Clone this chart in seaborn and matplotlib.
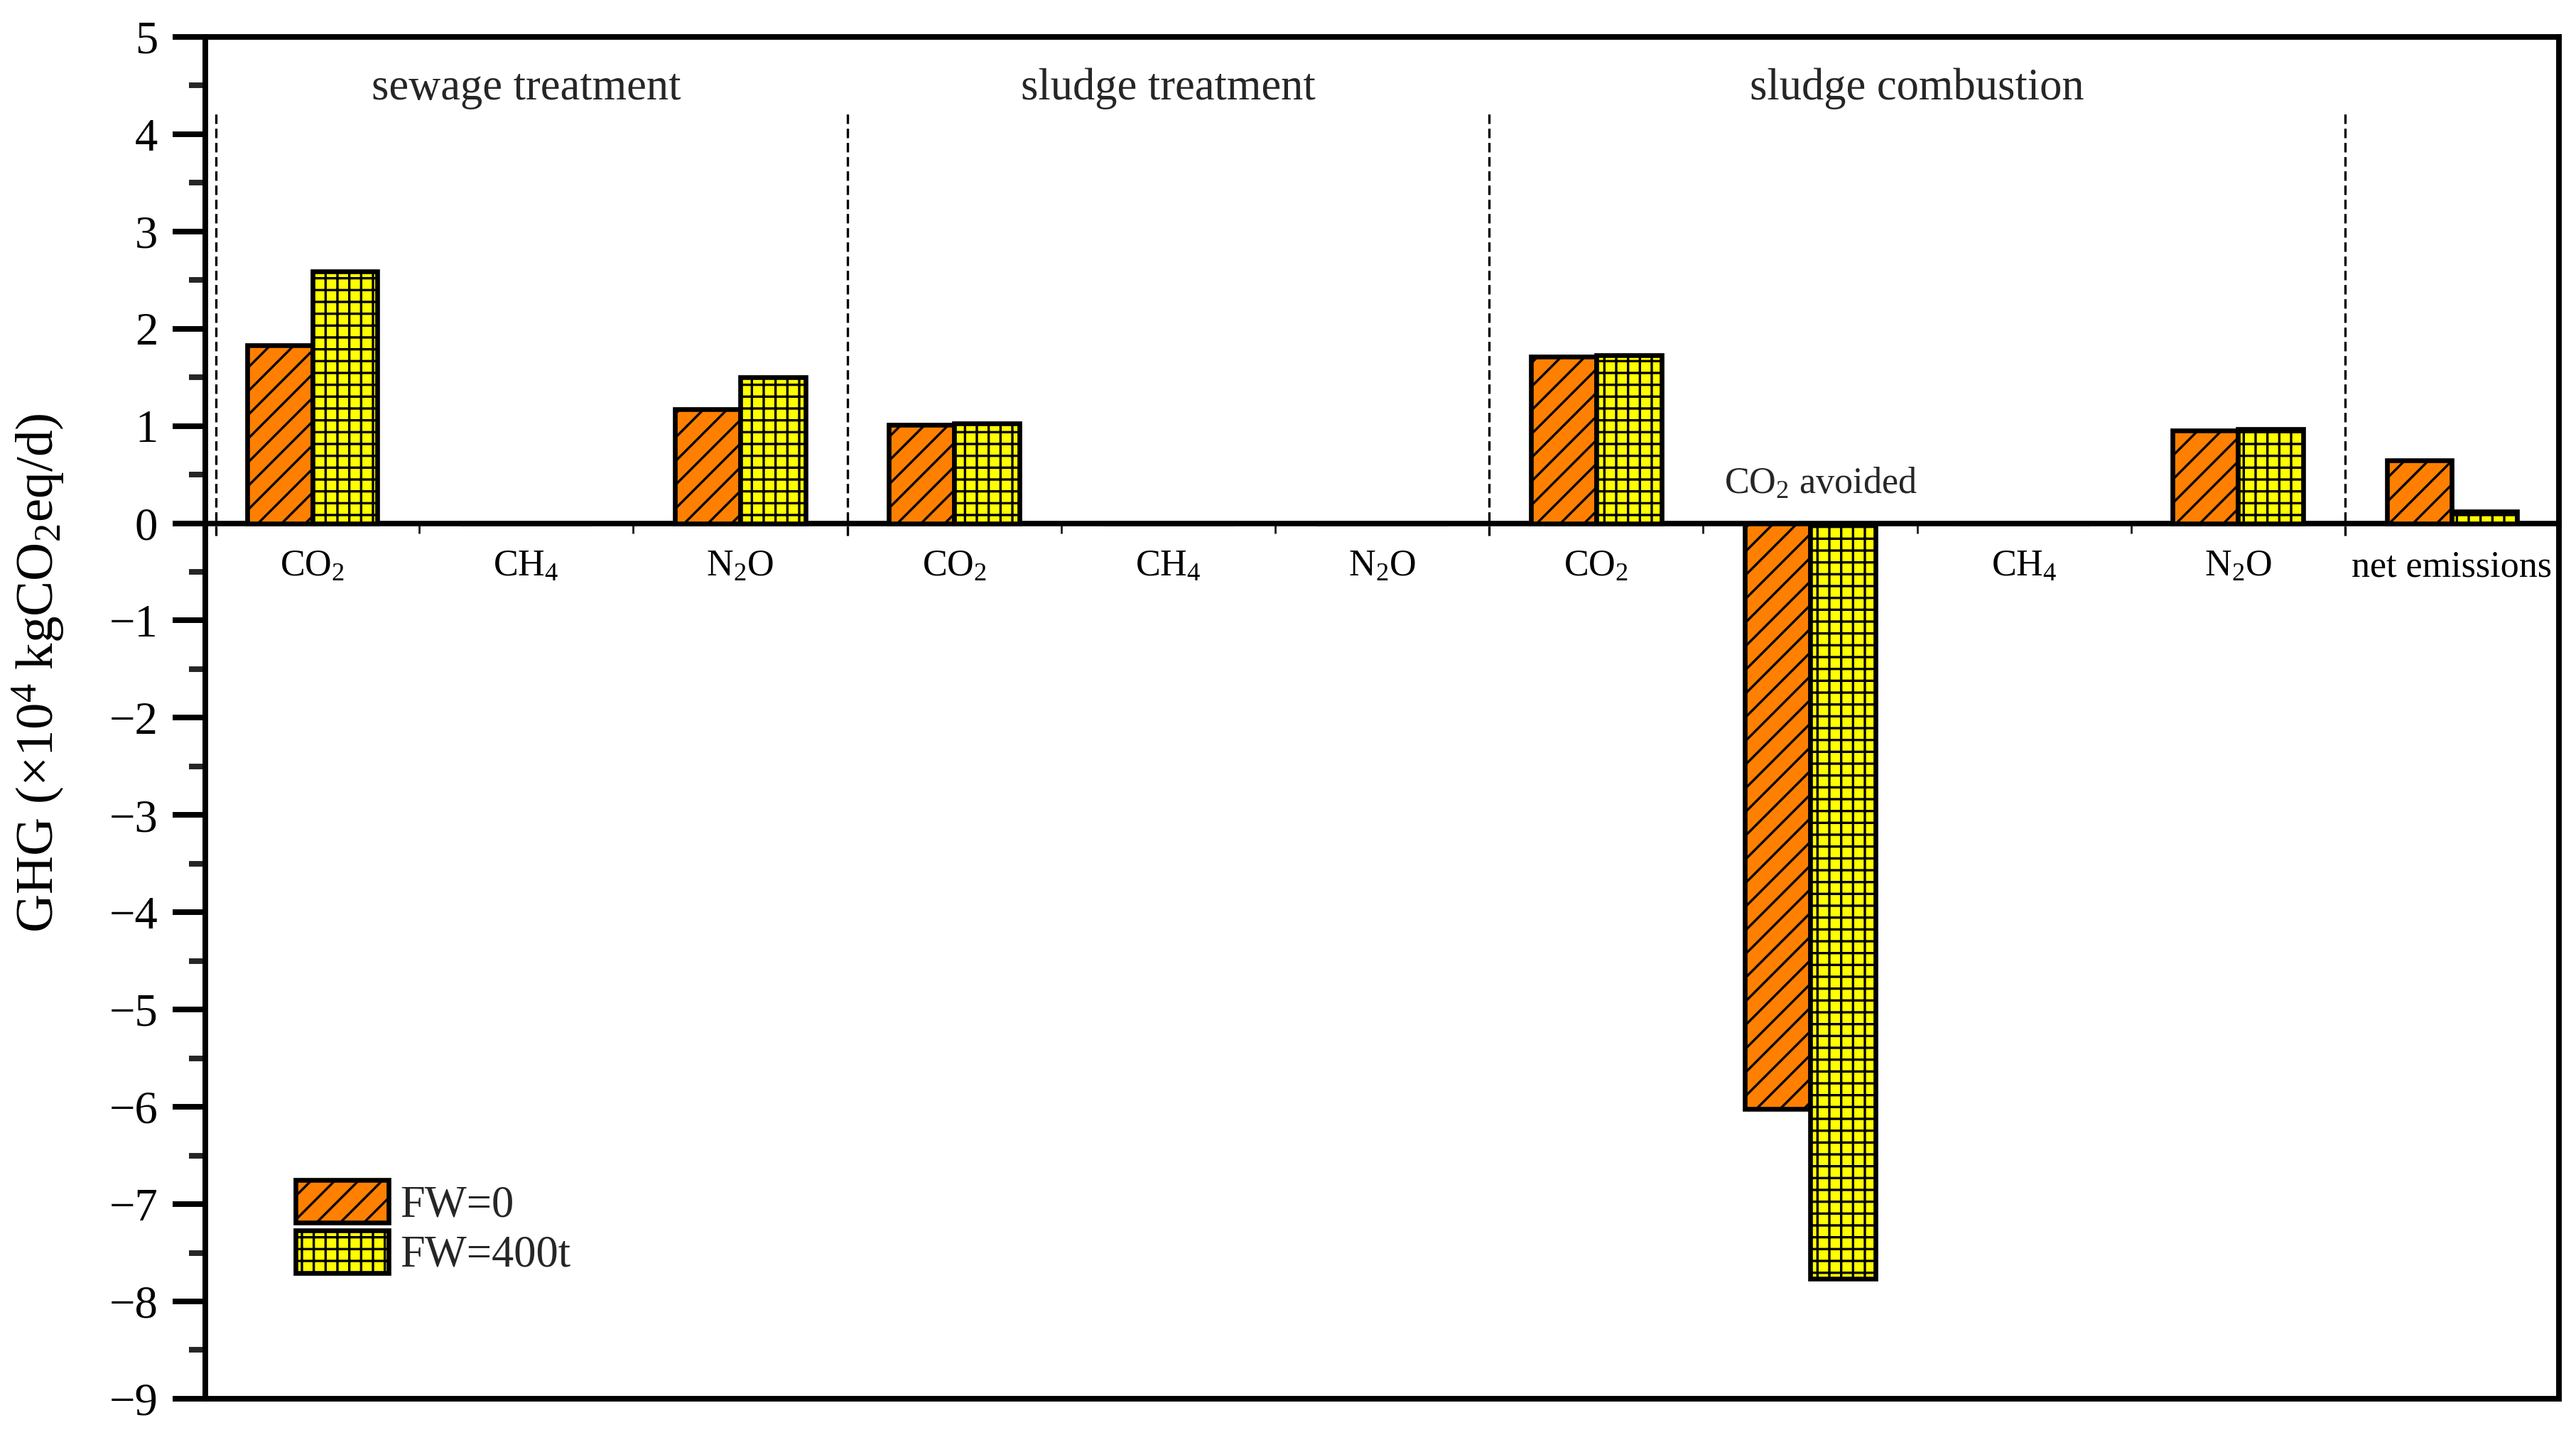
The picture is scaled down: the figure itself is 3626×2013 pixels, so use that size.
import matplotlib
matplotlib.use("Agg")
import matplotlib.pyplot as plt
import seaborn as sns
import pandas as pd

# GHG emissions per stage (x10^4 kgCO2eq/d)
gases = ['CO$_2$', 'CH$_4$', 'N$_2$O',
         'CO$_2$', 'CH$_4$', 'N$_2$O',
         'CO$_2$', 'CO$_2$ avoided', 'CH$_4$', 'N$_2$O',
         'net emissions']
fw0 = [1.83, 0, 1.17, 1.01, 0, 0, 1.71, -6.02, 0, 0.95, 0.65]
fw400 = [2.59, 0, 1.50, 1.03, 0, 0, 1.73, -7.77, 0, 0.97, 0.12]
scenarios = ['FW=0', 'FW=400t']
stages = ['sewage treatment', 'sludge treatment', 'sludge combustion']
stage_centers = [1, 4, 7.5]
dividers = [-0.45, 2.5, 5.5, 9.5]

colors = ['#FF8000', '#FFFF00']
hatches = ['///', '+++']

df = pd.DataFrame({
    'pos': list(range(len(gases))) * 2,
    'value': fw0 + fw400,
    'scenario': [scenarios[0]] * len(gases) + [scenarios[1]] * len(gases),
})

sns.set_theme(style='ticks')
plt.rcParams['font.family'] = ['Liberation Serif', 'DejaVu Serif']
plt.rcParams['mathtext.fontset'] = 'custom'
plt.rcParams['mathtext.rm'] = 'Liberation Serif'
plt.rcParams['mathtext.it'] = 'Liberation Serif:italic'
plt.rcParams['mathtext.default'] = 'regular'
plt.rcParams['hatch.linewidth'] = 0.8
plt.rcParams['axes.unicode_minus'] = True

fig, ax = plt.subplots(figsize=(3626 / 300, 2013 / 300), dpi=300)
fig.subplots_adjust(left=0.0797, right=0.9934, bottom=0.0219, top=0.9742)

sns.barplot(data=df, x='pos', y='value', hue='scenario', hue_order=scenarios,
            order=list(range(len(gases))), palette=colors, width=0.61,
            edgecolor='black', linewidth=1.6, saturation=1, legend=False, ax=ax)

for cont, h in zip(ax.containers, hatches):
    for bar in cont:
        bar.set_hatch(h)

ax.set_xlim(-0.5, len(gases) - 0.5)
ax.set_ylim(-9, 5)
ax.set_yticks(range(-9, 6))
ax.set_yticks([v + 0.5 for v in range(-9, 5)], minor=True)
ax.tick_params(axis='y', which='major', direction='out', length=11, width=1.9,
               labelsize=15.5, pad=5, colors='black')
ax.tick_params(axis='y', which='minor', direction='out', length=5.5, width=1.9)
ax.tick_params(axis='x', bottom=False, labelbottom=False)
ax.set_xlabel('')
for s in ax.spines.values():
    s.set_linewidth(1.9)
    s.set_color('black')
    s.set_visible(True)

ax.set_ylabel('GHG (×10$^{4}$ kgCO$_2$eq/d)', fontsize=18, color='black',
              va='center')
ax.yaxis.set_label_coords(-0.071, 0.533)

# zero line with category labels
sec = ax.secondary_xaxis(9 / 14)
sec.set_alignment('bottom')
sec.spines['bottom'].set_linewidth(1.85)
sec.spines['bottom'].set_color('black')
labels = [g if g != 'CO$_2$ avoided' else '' for g in gases]
sec.set_xticks(range(len(gases)), labels)
sec.set_xticks([0.5, 1.5, 3.5, 4.5, 6.5, 7.5, 8.5], minor=True)
sec.tick_params(axis='x', which='major', length=0, pad=9, labelsize=12.5, colors='black')
sec.tick_params(axis='x', which='minor', length=3.4, width=0.7, direction='out')

ax.text(7.05, 0.4, 'CO$_2$ avoided', ha='center', va='center', fontsize=12.5)

ax.vlines(dividers, -0.13, 4.23, colors='black', linewidth=0.8, linestyles=(0, (4, 2)))
for name, xc in zip(stages, stage_centers):
    ax.text(xc, 4.47, name, ha='center', va='center', fontsize=15)

ax.legend(handles=list(ax.containers), labels=scenarios, loc='lower left',
          bbox_to_anchor=(0.0384, 0.0897), frameon=False, fontsize=15,
          handlelength=2.1, handleheight=1.1, labelspacing=0.08,
          handletextpad=0.25, borderpad=0, borderaxespad=0)

fig.savefig('out.png', dpi=300)
